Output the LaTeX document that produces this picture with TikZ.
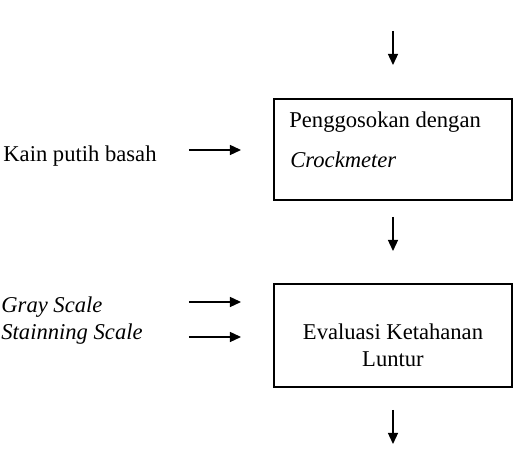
\documentclass[tikz,border=0pt]{standalone}
\usepackage{fontspec}
\setmainfont{Liberation Serif}
\usetikzlibrary{arrows.meta}

\tikzset{
  flow/.style={-{Triangle[length=5.5pt,width=5pt]},line width=0.65pt},
  proses/.style={draw,line width=0.75pt,minimum width=119pt,minimum height=50.5pt,inner sep=0pt},
  teks/.style={inner sep=0pt,anchor=west,font=\fontsize{11.3}{13.5}\selectfont}
}

\begin{document}
\begin{tikzpicture}[x=0.5pt,y=-0.5pt]
\useasboundingbox (0,0) rectangle (516,458);
% kotak proses
\node[proses] (gosok) at (393,149.5) {};
\node[proses,minimum height=51.5pt] (evaluasi) at (393,335.5) {};
\node[teks] (gosokA) at (289,122) {Penggosokan dengan};
\node[teks] (gosokB) at (290,160) {\itshape Crockmeter};
\node[teks,anchor=center,align=center] (evaluasiT) at (393,345) {Evaluasi Ketahanan\\Luntur};
% masukan
\node[teks] (kain) at (3,156) {Kain putih basah};
\node[teks] (gray) at (1,307) {\itshape Gray Scale};
\node[teks] (stain) at (1,334) {\itshape Stainning Scale};
% titik panah
\coordinate (a1) at (393,31);  \coordinate (a2) at (393,65);
\coordinate (b1) at (393,217); \coordinate (b2) at (393,251);
\coordinate (c1) at (393,410); \coordinate (c2) at (393,444);
\coordinate (k1) at (189,150); \coordinate (k2) at (241,150);
\coordinate (g1) at (189,302); \coordinate (g2) at (241,302);
\coordinate (s1) at (189,337); \coordinate (s2) at (241,337);
\draw[flow] (a1) -- (a2);
\draw[flow] (b1) -- (b2);
\draw[flow] (c1) -- (c2);
\draw[flow] (k1) -- (k2);
\draw[flow] (g1) -- (g2);
\draw[flow] (s1) -- (s2);
\end{tikzpicture}
\end{document}
